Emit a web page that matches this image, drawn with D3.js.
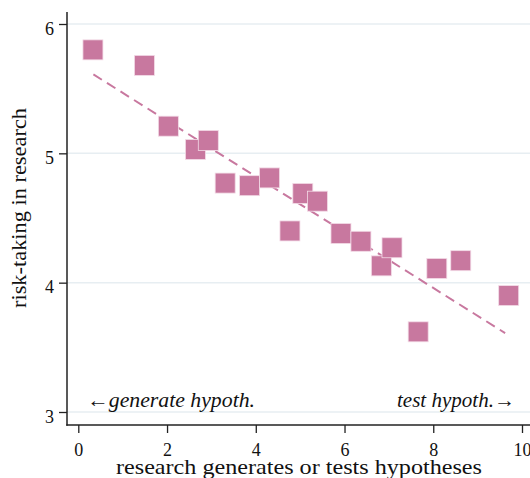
<!DOCTYPE html>
<html>
<head>
<meta charset="utf-8">
<script src="https://cdn.jsdelivr.net/npm/d3@7"></script>
<style>
  html, body { margin: 0; padding: 0; background: #fff; }
  svg { display: block; }
  text { font-family: "Liberation Serif", "DejaVu Serif", serif; fill: #111; }
</style>
</head>
<body>
<svg id="chart" width="530" height="478"></svg>
<script>
// Binned scatter: how strongly research generates vs. tests hypotheses, against risk-taking
const hypothesisScore = [0.33, 1.49, 2.03, 2.64, 2.93, 3.31, 3.86, 4.31, 4.77, 5.06,
                         5.39, 5.92, 6.37, 6.83, 7.07, 7.66, 8.08, 8.62, 9.70];
const riskTaking      = [5.80, 5.68, 5.21, 5.03, 5.10, 4.77, 4.75, 4.81, 4.40, 4.69,
                         4.63, 4.38, 4.32, 4.13, 4.27, 3.62, 4.11, 4.17, 3.90];

// Linear fit endpoints
const fitX = [0.34, 9.62];
const fitY = [5.61, 3.61];

const xTicks = [0, 2, 4, 6, 8, 10];
const yTicks = [3, 4, 5, 6];

const xTitle = "research generates or tests hypotheses";
const yTitle = "risk-taking in research";
const leftNote = "\u2190generate hypoth.";
const rightNote = "test hypoth.\u2192";

const markColor = "#c8789f";

const svg = d3.select("#chart");
const W = 530, H = 478;
const axisX = 67, axisY = 425, axisTop = 12;

const x = d3.scaleLinear().domain([0, 10]).range([78.3, 522]);
const y = d3.scaleLinear().domain([3, 6]).range([412, 24]);

// horizontal grid
svg.append("g").selectAll("line").data(yTicks).join("line")
  .attr("x1", axisX).attr("x2", W)
  .attr("y1", d => y(d)).attr("y2", d => y(d))
  .attr("stroke", "#e7eef2").attr("stroke-width", 1.5);

// y axis
const yAxis = d3.axisLeft(y).tickValues(yTicks).tickFormat(d3.format("d"))
  .tickSize(8).tickPadding(5);
const gy = svg.append("g").attr("transform", `translate(${axisX},0)`).call(yAxis);
gy.select(".domain").remove();
gy.selectAll(".tick line").attr("stroke", "#222").attr("stroke-width", 1.3);
gy.selectAll(".tick text").attr("font-size", 18).attr("dy", "0.56em")
  .style("font-family", '"Liberation Serif", serif').attr("fill", "#111");
svg.append("line").attr("x1", axisX).attr("x2", axisX)
  .attr("y1", axisTop).attr("y2", axisY + 0.7)
  .attr("stroke", "#222").attr("stroke-width", 1.5);

// x axis
const xAxis = d3.axisBottom(x).tickValues(xTicks).tickFormat(d3.format("d"))
  .tickSize(8).tickPadding(10);
const gx = svg.append("g").attr("transform", `translate(0,${axisY})`).call(xAxis);
gx.select(".domain").remove();
gx.selectAll(".tick line").attr("stroke", "#222").attr("stroke-width", 1.3);
gx.selectAll(".tick text").attr("font-size", 18)
  .style("font-family", '"Liberation Serif", serif').attr("fill", "#111");
svg.append("line").attr("x1", axisX - 0.7).attr("x2", W)
  .attr("y1", axisY).attr("y2", axisY)
  .attr("stroke", "#222").attr("stroke-width", 1.5);

// axis titles
svg.append("text").attr("x", 299).attr("y", 473.5)
  .attr("text-anchor", "middle").attr("font-size", 21.5)
  .attr("textLength", 366).attr("lengthAdjust", "spacingAndGlyphs").text(xTitle);
svg.append("text").attr("transform", "translate(25.5,208) rotate(-90)")
  .attr("text-anchor", "middle").attr("font-size", 21.5)
  .attr("textLength", 200).attr("lengthAdjust", "spacingAndGlyphs").text(yTitle);

// fitted line
svg.append("line")
  .attr("x1", x(fitX[0])).attr("y1", y(fitY[0]))
  .attr("x2", x(fitX[1])).attr("y2", y(fitY[1]))
  .attr("stroke", markColor).attr("stroke-width", 2)
  .attr("stroke-dasharray", "10,6");

// binned points
const pts = hypothesisScore.map((v, i) => ({ x: v, y: riskTaking[i] }));
const s = 20;
svg.append("g").selectAll("rect").data(pts).join("rect")
  .attr("x", d => x(d.x) - s / 2).attr("y", d => y(d.y) - s / 2)
  .attr("width", s).attr("height", s)
  .attr("fill", markColor)
  .attr("stroke", "#f3dbe7").attr("stroke-width", 0.8);

// direction notes
svg.append("text").attr("x", 87).attr("y", 407)
  .attr("font-size", 20).attr("font-style", "italic")
  .attr("textLength", 168).attr("lengthAdjust", "spacingAndGlyphs").text(leftNote);
svg.append("text").attr("x", 397).attr("y", 407)
  .attr("font-size", 20).attr("font-style", "italic")
  .attr("textLength", 118).attr("lengthAdjust", "spacingAndGlyphs").text(rightNote);
</script>
</body>
</html>
